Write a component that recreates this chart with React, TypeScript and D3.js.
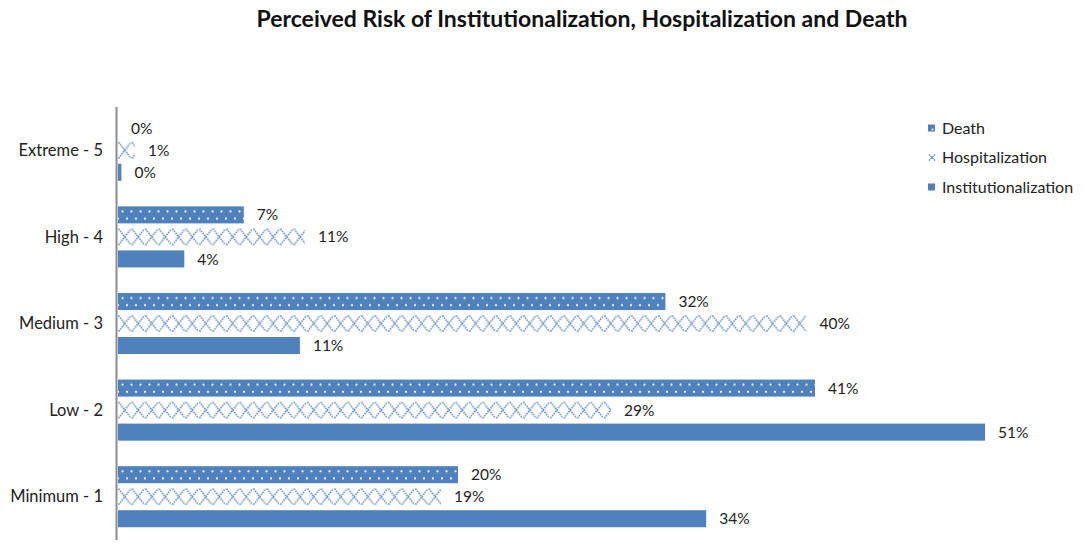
import React from "react";
import * as d3 from "d3";

const categories = ["Extreme - 5", "High - 4", "Medium - 3", "Low - 2", "Minimum - 1"];
const seriesNames = ["Death", "Hospitalization", "Institutionalization"];

const deathValues = [0, 7.4, 32.2, 41, 20];
const hospValues = [1, 11, 40.5, 29, 19];
const instValues = [0.2, 3.9, 10.7, 51, 34.6];

const deathLabels = ["0%", "7%", "32%", "41%", "20%"];
const hospLabels = ["1%", "11%", "40%", "29%", "19%"];
const instLabels = ["0%", "4%", "11%", "51%", "34%"];

const W = 1084;
const H = 546;
const BLUE = "#4f81bd";
const FONT = "Lato, 'Open Sans', sans-serif";

const App = () => {
  const x = d3.scaleLinear().domain([0, 60]).range([118, 118 + 60 * 17]);
  const y0 = d3.scaleBand().domain(categories).range([107, 540]);
  const y1 = d3
    .scaleBand()
    .domain(seriesNames)
    .range([0, y0.bandwidth()])
    .paddingInner(0.227)
    .paddingOuter(0.58);

  const series = [
    { name: "Death", values: deathValues, labels: deathLabels, fill: "url(#dots)" },
    { name: "Hospitalization", values: hospValues, labels: hospLabels, fill: "url(#cross)" },
    { name: "Institutionalization", values: instValues, labels: instLabels, fill: BLUE },
  ];

  const bh = y1.bandwidth();

  return (
    <svg
      width={W}
      height={H}
      style={{ position: "absolute", left: 0, top: 0, background: "#fff" }}
      fontFamily={FONT}
    >
      <defs>
        <pattern id="dots" patternUnits="userSpaceOnUse" width={18} height={bh}>
          <rect width={18} height={bh} fill={BLUE} />
          <circle cx={4.5} cy={bh * 0.3} r={1.1} fill="#fff" />
          <circle cx={13.5} cy={bh * 0.3} r={1.1} fill="#fff" />
          <circle cx={9} cy={bh * 0.72} r={1.1} fill="#fff" />
          <circle cx={0} cy={bh * 0.72} r={1.1} fill="#fff" />
          <circle cx={18} cy={bh * 0.72} r={1.1} fill="#fff" />
        </pattern>
        <pattern id="cross" patternUnits="userSpaceOnUse" width={13.5} height={bh}>
          <rect width={13.5} height={bh} fill="#fff" />
          <line x1={0.5} y1={0.5} x2={13} y2={bh - 0.5} stroke={BLUE} strokeWidth={1.5} strokeDasharray="1.5 1" />
          <line x1={0.5} y1={bh - 0.5} x2={13} y2={0.5} stroke={BLUE} strokeWidth={1.5} strokeDasharray="1.5 1" />
        </pattern>
      </defs>

      <text
        x={582}
        y={27}
        textAnchor="middle"
        fontSize={23}
        fontWeight="bold"
        fill="#111"
      >
        Perceived Risk of Institutionalization, Hospitalization and Death
      </text>

      {categories.map((c, i) => (
        <g key={c} transform={`translate(0, ${y0(c)})`}>
          <text
            x={103}
            y={y0.bandwidth() / 2}
            dy="0.35em"
            textAnchor="end"
            fontSize={16.5}
            fill="#222"
          >
            {c}
          </text>
          {series.map((s) => {
            const by = y1(s.name) as number;
            const bw = x(s.values[i]) - x(0);
            return (
              <g key={s.name} transform={`translate(${x(0)}, ${by})`}>
                <rect x={0} y={0} width={bw} height={bh} fill={s.fill} />
                <text
                  x={bw + 13}
                  y={bh / 2}
                  dy="0.36em"
                  fontSize={15.5}
                  fill="#222"
                >
                  {s.labels[i]}
                </text>
              </g>
            );
          })}
        </g>
      ))}

      <line x1={116.5} x2={116.5} y1={107} y2={540} stroke="#8c8c8c" strokeWidth={2} />

      <g transform="translate(928, 128)">
        {seriesNames.map((n, i) => (
          <g key={n} transform={`translate(0, ${i * 29.5})`}>
            {i === 1 ? (
              <g stroke={BLUE} strokeWidth={1.3} strokeDasharray="1.6 0.7">
                <line x1={1} y1={-3} x2={7} y2={3} />
                <line x1={1} y1={3} x2={7} y2={-3} />
              </g>
            ) : (
              <rect x={0} y={-3.5} width={7} height={7} fill={BLUE} />
            )}
            {i === 0 && <circle cx={4.5} cy={1.5} r={0.9} fill="#fff" />}
            <text x={14} y={0} dy="0.35em" fontSize={16} fill="#222">
              {n}
            </text>
          </g>
        ))}
      </g>
    </svg>
  );
};

export default App;
